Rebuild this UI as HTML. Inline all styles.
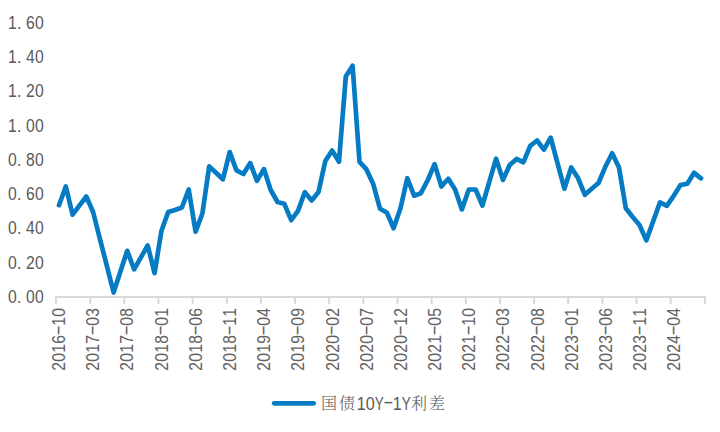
<!DOCTYPE html>
<html lang="zh"><head><meta charset="utf-8"><title>国债10Y-1Y利差</title>
<style>html,body{margin:0;padding:0;background:#fff;}svg{display:block}text{font-family:"Liberation Sans","Noto Sans CJK SC",sans-serif;font-size:18.2px;fill:#595959;}.k{font-family:"Liberation Serif","Noto Serif CJK SC",serif;font-size:16px;font-weight:300}.xl{fill:#626262}</style></head><body>
<svg width="720" height="432" viewBox="0 0 720 432">
<rect width="720" height="432" fill="#fff"/>
<g stroke="#D9D9D9" stroke-width="2" fill="none">
<path d="M55.0,297.0H705.9"/>
<path d="M56.0,297.0V304.1M90.2,297.0V304.1M124.3,297.0V304.1M158.4,297.0V304.1M192.6,297.0V304.1M226.8,297.0V304.1M260.9,297.0V304.1M295.0,297.0V304.1M329.2,297.0V304.1M363.3,297.0V304.1M397.5,297.0V304.1M431.6,297.0V304.1M465.8,297.0V304.1M499.9,297.0V304.1M534.1,297.0V304.1M568.2,297.0V304.1M602.4,297.0V304.1M636.5,297.0V304.1M670.7,297.0V304.1M704.9,297.0V304.1"/>
</g>
<text transform="translate(8.0,302.9) scale(0.865,1)" x="0.0 10.4 20.8 31.2" y="0">0.00</text>
<text transform="translate(8.0,268.6) scale(0.865,1)" x="0.0 10.4 20.8 31.2" y="0">0.20</text>
<text transform="translate(8.0,234.4) scale(0.865,1)" x="0.0 10.4 20.8 31.2" y="0">0.40</text>
<text transform="translate(8.0,200.1) scale(0.865,1)" x="0.0 10.4 20.8 31.2" y="0">0.60</text>
<text transform="translate(8.0,165.8) scale(0.865,1)" x="0.0 10.4 20.8 31.2" y="0">0.80</text>
<text transform="translate(8.0,131.6) scale(0.865,1)" x="0.0 10.4 20.8 31.2" y="0">1.00</text>
<text transform="translate(8.0,97.3) scale(0.865,1)" x="0.0 10.4 20.8 31.2" y="0">1.20</text>
<text transform="translate(8.0,63.0) scale(0.865,1)" x="0.0 10.4 20.8 31.2" y="0">1.40</text>
<text transform="translate(8.0,28.7) scale(0.865,1)" x="0.0 10.4 20.8 31.2" y="0">1.60</text>
<text class="xl" transform="translate(65.0,370.8) rotate(-90) scale(0.865,1)" y="0"><tspan x="0.0 10.4 20.8 31.2">2016</tspan><tspan x="40.64" dy="-1.2" textLength="12.37" lengthAdjust="spacingAndGlyphs">-</tspan><tspan x="52.0 62.4" dy="1.2">10</tspan></text>
<text class="xl" transform="translate(99.2,370.8) rotate(-90) scale(0.865,1)" y="0"><tspan x="0.0 10.4 20.8 31.2">2017</tspan><tspan x="40.64" dy="-1.2" textLength="12.37" lengthAdjust="spacingAndGlyphs">-</tspan><tspan x="52.0 62.4" dy="1.2">03</tspan></text>
<text class="xl" transform="translate(133.4,370.8) rotate(-90) scale(0.865,1)" y="0"><tspan x="0.0 10.4 20.8 31.2">2017</tspan><tspan x="40.64" dy="-1.2" textLength="12.37" lengthAdjust="spacingAndGlyphs">-</tspan><tspan x="52.0 62.4" dy="1.2">08</tspan></text>
<text class="xl" transform="translate(167.6,370.8) rotate(-90) scale(0.865,1)" y="0"><tspan x="0.0 10.4 20.8 31.2">2018</tspan><tspan x="40.64" dy="-1.2" textLength="12.37" lengthAdjust="spacingAndGlyphs">-</tspan><tspan x="52.0 62.4" dy="1.2">01</tspan></text>
<text class="xl" transform="translate(201.7,370.8) rotate(-90) scale(0.865,1)" y="0"><tspan x="0.0 10.4 20.8 31.2">2018</tspan><tspan x="40.64" dy="-1.2" textLength="12.37" lengthAdjust="spacingAndGlyphs">-</tspan><tspan x="52.0 62.4" dy="1.2">06</tspan></text>
<text class="xl" transform="translate(235.9,370.8) rotate(-90) scale(0.865,1)" y="0"><tspan x="0.0 10.4 20.8 31.2">2018</tspan><tspan x="40.64" dy="-1.2" textLength="12.37" lengthAdjust="spacingAndGlyphs">-</tspan><tspan x="52.0 62.4" dy="1.2">11</tspan></text>
<text class="xl" transform="translate(270.1,370.8) rotate(-90) scale(0.865,1)" y="0"><tspan x="0.0 10.4 20.8 31.2">2019</tspan><tspan x="40.64" dy="-1.2" textLength="12.37" lengthAdjust="spacingAndGlyphs">-</tspan><tspan x="52.0 62.4" dy="1.2">04</tspan></text>
<text class="xl" transform="translate(304.3,370.8) rotate(-90) scale(0.865,1)" y="0"><tspan x="0.0 10.4 20.8 31.2">2019</tspan><tspan x="40.64" dy="-1.2" textLength="12.37" lengthAdjust="spacingAndGlyphs">-</tspan><tspan x="52.0 62.4" dy="1.2">09</tspan></text>
<text class="xl" transform="translate(338.5,370.8) rotate(-90) scale(0.865,1)" y="0"><tspan x="0.0 10.4 20.8 31.2">2020</tspan><tspan x="40.64" dy="-1.2" textLength="12.37" lengthAdjust="spacingAndGlyphs">-</tspan><tspan x="52.0 62.4" dy="1.2">02</tspan></text>
<text class="xl" transform="translate(372.7,370.8) rotate(-90) scale(0.865,1)" y="0"><tspan x="0.0 10.4 20.8 31.2">2020</tspan><tspan x="40.64" dy="-1.2" textLength="12.37" lengthAdjust="spacingAndGlyphs">-</tspan><tspan x="52.0 62.4" dy="1.2">07</tspan></text>
<text class="xl" transform="translate(406.9,370.8) rotate(-90) scale(0.865,1)" y="0"><tspan x="0.0 10.4 20.8 31.2">2020</tspan><tspan x="40.64" dy="-1.2" textLength="12.37" lengthAdjust="spacingAndGlyphs">-</tspan><tspan x="52.0 62.4" dy="1.2">12</tspan></text>
<text class="xl" transform="translate(441.0,370.8) rotate(-90) scale(0.865,1)" y="0"><tspan x="0.0 10.4 20.8 31.2">2021</tspan><tspan x="40.64" dy="-1.2" textLength="12.37" lengthAdjust="spacingAndGlyphs">-</tspan><tspan x="52.0 62.4" dy="1.2">05</tspan></text>
<text class="xl" transform="translate(475.2,370.8) rotate(-90) scale(0.865,1)" y="0"><tspan x="0.0 10.4 20.8 31.2">2021</tspan><tspan x="40.64" dy="-1.2" textLength="12.37" lengthAdjust="spacingAndGlyphs">-</tspan><tspan x="52.0 62.4" dy="1.2">10</tspan></text>
<text class="xl" transform="translate(509.4,370.8) rotate(-90) scale(0.865,1)" y="0"><tspan x="0.0 10.4 20.8 31.2">2022</tspan><tspan x="40.64" dy="-1.2" textLength="12.37" lengthAdjust="spacingAndGlyphs">-</tspan><tspan x="52.0 62.4" dy="1.2">03</tspan></text>
<text class="xl" transform="translate(543.6,370.8) rotate(-90) scale(0.865,1)" y="0"><tspan x="0.0 10.4 20.8 31.2">2022</tspan><tspan x="40.64" dy="-1.2" textLength="12.37" lengthAdjust="spacingAndGlyphs">-</tspan><tspan x="52.0 62.4" dy="1.2">08</tspan></text>
<text class="xl" transform="translate(577.8,370.8) rotate(-90) scale(0.865,1)" y="0"><tspan x="0.0 10.4 20.8 31.2">2023</tspan><tspan x="40.64" dy="-1.2" textLength="12.37" lengthAdjust="spacingAndGlyphs">-</tspan><tspan x="52.0 62.4" dy="1.2">01</tspan></text>
<text class="xl" transform="translate(612.0,370.8) rotate(-90) scale(0.865,1)" y="0"><tspan x="0.0 10.4 20.8 31.2">2023</tspan><tspan x="40.64" dy="-1.2" textLength="12.37" lengthAdjust="spacingAndGlyphs">-</tspan><tspan x="52.0 62.4" dy="1.2">06</tspan></text>
<text class="xl" transform="translate(646.1,370.8) rotate(-90) scale(0.865,1)" y="0"><tspan x="0.0 10.4 20.8 31.2">2023</tspan><tspan x="40.64" dy="-1.2" textLength="12.37" lengthAdjust="spacingAndGlyphs">-</tspan><tspan x="52.0 62.4" dy="1.2">11</tspan></text>
<text class="xl" transform="translate(680.3,370.8) rotate(-90) scale(0.865,1)" y="0"><tspan x="0.0 10.4 20.8 31.2">2024</tspan><tspan x="40.64" dy="-1.2" textLength="12.37" lengthAdjust="spacingAndGlyphs">-</tspan><tspan x="52.0 62.4" dy="1.2">04</tspan></text>
<polyline points="59.0,205.2 65.8,186.5 72.6,214.7 79.4,205.6 86.3,196.5 93.1,212.0 99.9,238.8 106.8,265.7 113.6,292.5 120.4,271.6 127.2,250.8 134.1,269.3 140.9,257.4 147.7,245.5 154.6,273.1 161.4,231.0 168.2,212.0 175.1,210.0 181.9,207.5 188.7,189.5 195.6,231.6 202.4,213.5 209.2,166.4 216.0,172.8 222.9,179.3 229.7,152.1 236.5,170.4 243.4,174.0 250.2,163.1 257.0,180.9 263.9,169.1 270.7,190.0 277.5,202.0 284.3,203.8 291.2,220.2 298.0,210.9 304.8,192.2 311.7,200.4 318.5,192.0 325.3,161.0 332.1,150.6 339.0,161.7 345.8,76.5 352.6,65.8 359.5,161.9 366.3,169.2 373.1,183.7 380.0,208.7 386.8,212.5 393.6,228.2 400.4,208.5 407.3,178.2 414.1,195.7 420.9,193.2 427.8,180.0 434.6,164.1 441.4,186.5 448.3,178.7 455.1,189.5 461.9,209.4 468.8,189.5 475.6,189.5 482.4,205.5 489.2,182.1 496.1,158.7 502.9,179.9 509.7,165.0 516.6,158.9 523.4,162.3 530.2,145.8 537.1,140.5 543.9,149.7 550.7,137.7 557.5,163.2 564.4,188.7 571.2,167.4 578.0,178.0 584.9,194.8 591.7,188.7 598.5,183.0 605.4,166.7 612.2,153.3 619.0,167.5 625.8,208.2 632.7,217.0 639.5,225.0 646.3,240.4 653.2,221.3 660.0,202.4 666.8,205.8 673.7,195.8 680.5,185.0 687.3,183.7 694.1,172.8 701.0,178.3" fill="none" stroke="#057BC3" stroke-width="4.7" stroke-linejoin="round" stroke-linecap="round"/>
<path d="M274.15,403.3H313.65" stroke="#057BC3" stroke-width="4.7" stroke-linecap="round" fill="none"/>
<text class="lg"><tspan class="k" x="320.9 338.9" y="409.1">国债</tspan><tspan x="356.7" y="409.6" textLength="9" lengthAdjust="spacingAndGlyphs">1</tspan><tspan x="365.7" y="409.6" textLength="9" lengthAdjust="spacingAndGlyphs">0</tspan><tspan x="374.7" y="409.6" textLength="9" lengthAdjust="spacingAndGlyphs">Y</tspan><tspan x="382.9" y="408.3" textLength="10.6" lengthAdjust="spacingAndGlyphs">-</tspan><tspan x="392.7" y="409.6" textLength="9" lengthAdjust="spacingAndGlyphs">1</tspan><tspan x="401.7" y="409.6" textLength="9" lengthAdjust="spacingAndGlyphs">Y</tspan><tspan class="k" x="410.9 428.9" y="409.1">利差</tspan></text>
</svg></body></html>
